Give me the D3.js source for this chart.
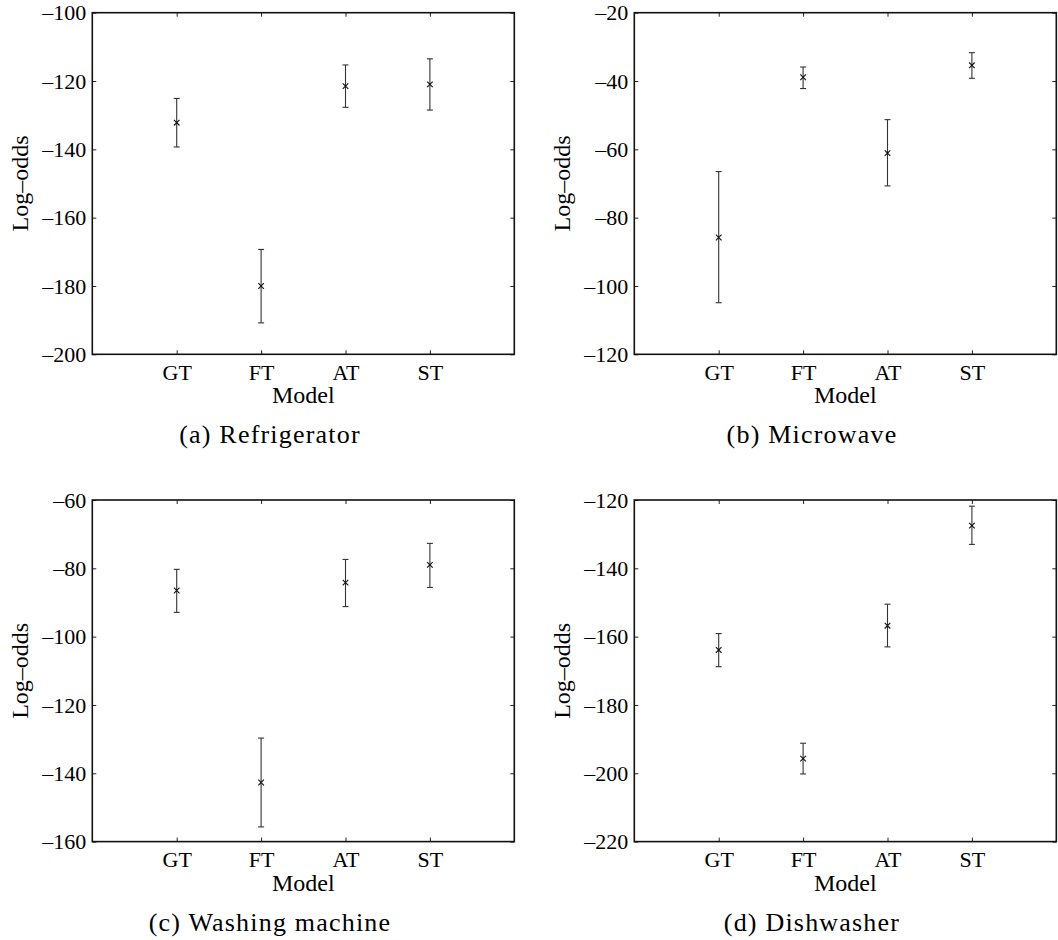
<!DOCTYPE html>
<html>
<head>
<meta charset="utf-8">
<script src="https://cdn.jsdelivr.net/npm/d3@7"></script>
<style>
  html, body { margin: 0; padding: 0; background: #fff; }
  svg { display: block; font-family: "Liberation Serif", serif; }
  svg text { font-family: "Liberation Serif", serif !important; }
</style>
</head>
<body>
<svg id="fig" width="1058" height="940"></svg>
<script>
// Models compared in every panel
const models = ["GT", "FT", "AT", "ST"];

// (a) Refrigerator: mean log-odds with lower / upper error bar ends
const refrigeratorMean = [-132.2, -180.0, -121.5, -121.0];
const refrigeratorLow  = [-139.3, -190.8, -127.7, -128.5];
const refrigeratorHigh = [-125.1, -169.3, -115.3, -113.5];
const refrigeratorTicks = [-200, -180, -160, -140, -120, -100];

// (b) Microwave
const microwaveMean = [-85.8, -38.9, -61.1, -35.4];
const microwaveLow  = [-104.9, -42.2, -70.7, -39.2];
const microwaveHigh = [-66.5, -35.9, -51.3, -31.7];
const microwaveTicks = [-120, -100, -80, -60, -40, -20];

// (c) Washing machine
const washingMean = [-86.5, -142.7, -84.2, -79.0];
const washingLow  = [-92.9, -155.7, -91.2, -85.6];
const washingHigh = [-80.3, -129.7, -77.4, -72.7];
const washingTicks = [-160, -140, -120, -100, -80, -60];

// (d) Dishwasher
const dishwasherMean = [-163.9, -195.7, -156.8, -127.5];
const dishwasherLow  = [-168.8, -200.2, -163.0, -133.0];
const dishwasherHigh = [-159.1, -191.2, -150.5, -121.8];
const dishwasherTicks = [-220, -200, -180, -160, -140, -120];

const captions = ["(a) Refrigerator", "(b) Microwave", "(c) Washing machine", "(d) Dishwasher"];

const panels = [
  { mean: refrigeratorMean, low: refrigeratorLow, high: refrigeratorHigh, ticks: refrigeratorTicks, caption: captions[0] },
  { mean: microwaveMean,    low: microwaveLow,    high: microwaveHigh,    ticks: microwaveTicks,    caption: captions[1] },
  { mean: washingMean,      low: washingLow,      high: washingHigh,      ticks: washingTicks,      caption: captions[2] },
  { mean: dishwasherMean,   low: dishwasherLow,   high: dishwasherHigh,   ticks: dishwasherTicks,   caption: captions[3] }
];

// Plot-box geometry for the 2x2 grid
const boxW = 422, boxH = 341.6;
const colX = [92.3, 634.3];
const rowY = [12.7, 500];
const serif = '"Liberation Serif", serif';
const minus = s => String(s).replace("-", "\u2013");

const svg = d3.select("#fig");

panels.forEach((p, i) => {
  const col = i % 2;
  const x0 = colX[col], y0 = rowY[Math.floor(i / 2)];
  const g = svg.append("g").attr("transform", `translate(${x0},${y0})`);

  const x = d3.scalePoint().domain(models).range([0, boxW]).padding(1);
  const y = d3.scaleLinear().domain(d3.extent(p.ticks)).range([boxH, 0]);

  // bottom axis with labels, ticks pointing inward
  const bottom = g.append("g").attr("transform", `translate(0,${boxH})`)
    .call(d3.axisBottom(x).tickSize(-4).tickPadding(10));
  bottom.attr("font-family", null).attr("font-size", null);
  bottom.selectAll("text").attr("fill", "#000").attr("dy", "0.71em")
    .style("font-family", serif).style("font-size", "22px");
  // left axis with labels
  const left = g.append("g")
    .call(d3.axisLeft(y).tickValues(p.ticks).tickFormat(minus).tickSize(-4).tickPadding(6));
  left.attr("font-family", null).attr("font-size", null);
  left.selectAll("text").attr("fill", "#000")
    .style("font-family", serif).style("font-size", "22px");
  // mirrored ticks on top and right
  g.append("g").call(d3.axisTop(x).tickSize(-4).tickFormat(""));
  g.append("g").attr("transform", `translate(${boxW},0)`)
    .call(d3.axisRight(y).tickValues(p.ticks).tickSize(-4).tickFormat(""));

  g.selectAll(".domain").remove();
  g.selectAll(".tick line").attr("stroke", "#222").attr("stroke-width", 1);

  // plot box
  g.append("rect").attr("x", 0).attr("y", 0).attr("width", boxW).attr("height", boxH)
    .attr("fill", "none").attr("stroke", "#111").attr("stroke-width", 1.6);

  // error bars
  const cap = 3, mk = 2.8;
  const bars = g.append("g").selectAll("g").data(models).join("g")
    .attr("stroke", "#333").attr("stroke-width", 1.1).attr("fill", "none");
  bars.append("line")
    .attr("x1", d => x(d)).attr("x2", d => x(d))
    .attr("y1", (d, k) => y(p.low[k])).attr("y2", (d, k) => y(p.high[k]));
  bars.append("line")
    .attr("x1", d => x(d) - cap).attr("x2", d => x(d) + cap)
    .attr("y1", (d, k) => y(p.low[k])).attr("y2", (d, k) => y(p.low[k]));
  bars.append("line")
    .attr("x1", d => x(d) - cap).attr("x2", d => x(d) + cap)
    .attr("y1", (d, k) => y(p.high[k])).attr("y2", (d, k) => y(p.high[k]));
  // 'x' markers at the means
  bars.append("path")
    .attr("stroke", "#111")
    .attr("d", (d, k) => {
      const cx = x(d), cy = y(p.mean[k]);
      return `M${cx - mk},${cy - mk}L${cx + mk},${cy + mk}M${cx - mk},${cy + mk}L${cx + mk},${cy - mk}`;
    });

  // axis titles
  g.append("text").text("Model")
    .attr("x", boxW / 2).attr("y", boxH + 49)
    .attr("text-anchor", "middle")
    .style("font-family", serif).style("font-size", "24px");
  g.append("text").text("Log\u2013odds")
    .attr("transform", `translate(${28 + col * 542 - x0},${boxH / 2}) rotate(-90)`)
    .attr("text-anchor", "middle")
    .style("font-family", serif).style("font-size", "24px");

  // subfigure caption
  g.append("text").text(p.caption)
    .attr("x", 270 + col * 542 - x0).attr("y", 430.6)
    .attr("text-anchor", "middle")
    .style("font-family", serif).style("font-size", "26px").style("letter-spacing", "1.2px");
});
</script>
</body>
</html>
